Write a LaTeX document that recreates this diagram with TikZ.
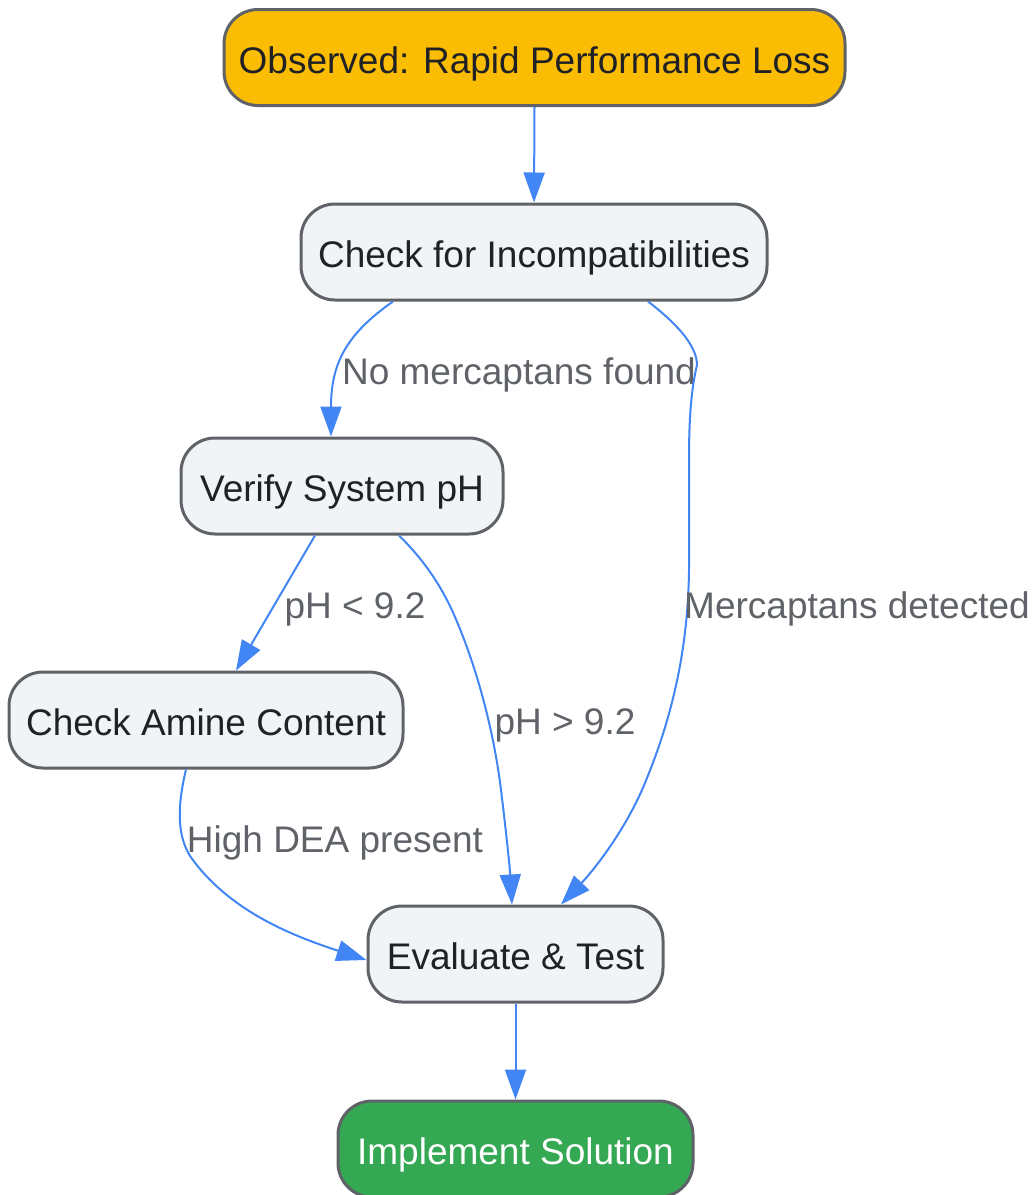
\documentclass[tikz,border=0pt]{standalone}
\usepackage{fontspec}
\setmainfont{Liberation Sans}
\usetikzlibrary{arrows.meta}
\definecolor{bordergrey}{HTML}{5F6368}
\definecolor{boxfill}{HTML}{F1F3F4}
\definecolor{yellowfill}{HTML}{FBBC04}
\definecolor{greenfill}{HTML}{34A853}
\definecolor{edgeblue}{HTML}{4285F4}
\definecolor{textdark}{HTML}{202124}
\definecolor{labelgrey}{HTML}{5F6368}
\tikzset{
  box/.style={draw=bordergrey, line width=3pt, fill=boxfill, rounded corners=34pt,
    inner sep=0pt, minimum height=96pt, text=textdark, text height=31pt, text depth=0pt,
    font=\fontsize{37}{44}\selectfont},
  conn/.style={draw=edgeblue, line width=2pt, -{Triangle[length=30pt,width=21pt]}},
  elabel/.style={text=labelgrey, inner sep=0pt, font=\fontsize{37}{44}\selectfont}
}
\begin{document}
\begin{tikzpicture}[x=1pt,y=-1pt]
\useasboundingbox (0,0) rectangle (1033,1195);
\node[box, fill=yellowfill, minimum width=621pt] (obs) at (534.5,57.5) {Observed: Rapid Performance Loss};
\node[box, minimum width=466pt] (chk) at (534,252) {Check for Incompatibilities};
\node[box, minimum width=322pt] (ver) at (342,486) {Verify System pH};
\node[box, minimum width=394pt] (ami) at (206,720) {Check Amine Content};
\node[box, minimum width=295pt] (eva) at (515.5,954) {Evaluate \& Test};
\node[box, fill=greenfill, text=white, minimum width=355pt] (imp) at (515.5,1149) {Implement Solution};

\draw[conn] (obs.south) -- (chk.north);

\draw[conn] ([xshift=-141pt]chk.south) .. controls (345,335) and (331,365) .. ([xshift=-11pt]ver.north);
\node[elabel] (l1) at (519,375) {No mercaptans found};

\draw[conn] ([xshift=114pt]chk.south) .. controls (675,322) and (697,345) .. (697,365)
  .. controls (691,390) and (689,420) .. (689,460) -- (689,570)
  .. controls (688,650) and (672,720) .. (642,790)
  .. controls (622,835) and (592,872) .. ([xshift=45.5pt]eva.north);
\node[elabel] (l2) at (857,609) {Mercaptans detected};

\draw[conn] ([xshift=-27pt]ver.south) -- ([xshift=30pt]ami.north);
\node[elabel] (l3) at (355,609) {pH < 9.2};

\draw[conn] ([xshift=57pt]ver.south) .. controls (420,556) and (440,582) .. (455,617)
  .. controls (480,675) and (495,740) .. (501,790)
  .. controls (506,830) and (510,870) .. ([xshift=-3.5pt]eva.north);
\node[elabel] (l4) at (565,725) {pH > 9.2};

\draw[conn] ([xshift=-20pt]ami.south) .. controls (180,795) and (174,830) .. (190,856)
  .. controls (228,910) and (290,935) .. ([yshift=-6pt]eva.west);
\node[elabel] (l5) at (335,843) {High DEA present};

\draw[conn] (eva.south) -- (imp.north);
\end{tikzpicture}
\end{document}
